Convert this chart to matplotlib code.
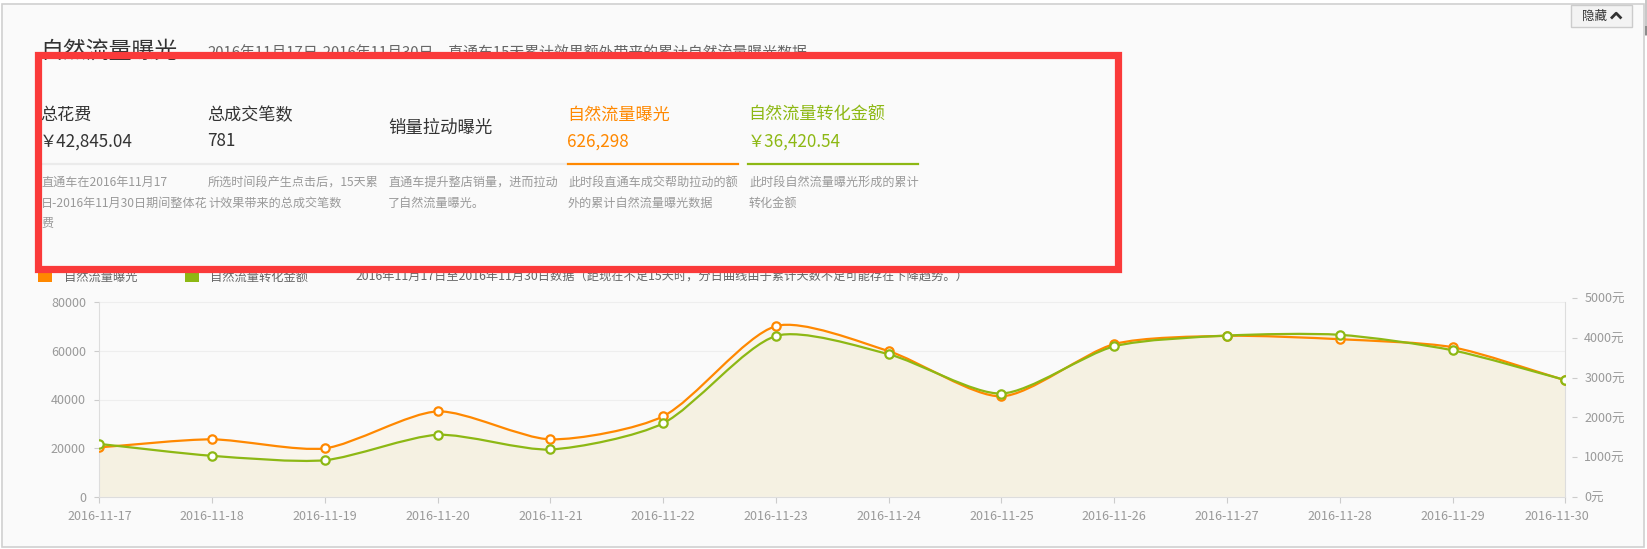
import matplotlib
matplotlib.use("Agg")
import matplotlib.pyplot as plt
import matplotlib.transforms as mtransforms
import numpy as np
from matplotlib.path import Path
from matplotlib.patches import PathPatch, Rectangle

plt.rcParams["font.family"] = ["Noto Sans CJK SC", "DejaVu Sans"]

W, H = 1647, 549

C_ORANGE = "#ff8800"
C_GREEN = "#8db814"
C_RED = "#fa3a3a"
C_TEXT = "#333333"
C_GREY = "#999999"
C_AXIS = "#dddddd"

# data
dates = ["2016-11-17", "2016-11-18", "2016-11-19", "2016-11-20", "2016-11-21",
         "2016-11-22", "2016-11-23", "2016-11-24", "2016-11-25", "2016-11-26",
         "2016-11-27", "2016-11-28", "2016-11-29", "2016-11-30"]
exposure = [20300, 23600, 19900, 35100, 23600, 33100, 70200,
            59900, 41300, 62800, 66200, 64800, 61500, 47900]
amount = [1330, 1030, 920, 1560, 1190, 1850, 4050,
          3590, 2600, 3790, 4060, 4080, 3690, 2940]
left_ticks = [0, 20000, 40000, 60000, 80000]
right_ticks = [0, 1000, 2000, 3000, 4000, 5000]

metric_labels = ["总花费", "总成交笔数", "销量拉动曝光", "自然流量曝光", "自然流量转化金额"]
metric_values = ["￥42,845.04", "781", "", "626,298", "￥36,420.54"]
metric_desc = [
    "直通车在2016年11月17\n日-2016年11月30日期间整体花\n费",
    "所选时间段产生点击后，15天累\n计效果带来的总成交笔数",
    "直通车提升整店销量，进而拉动\n了自然流量曝光。",
    "此时段直通车成交帮助拉动的额\n外的累计自然流量曝光数据",
    "此时段自然流量曝光形成的累计\n转化金额",
]
series_names = ["自然流量曝光", "自然流量转化金额"]


def smooth_path(xs, ys, trans, k=0.25):
    pts = trans.transform(np.column_stack([xs, ys]))
    n = len(pts)
    cl, cr = [], []
    for i in range(n):
        p = pts[i]
        prev = pts[max(i - 1, 0)]
        nxt = pts[min(i + 1, n - 1)]
        v = nxt - prev
        d0 = np.hypot(*(p - prev))
        d1 = np.hypot(*(nxt - p))
        s = d0 + d1
        if s == 0:
            cl.append(p); cr.append(p)
            continue
        cl.append(p - v * k * d0 / s * 2 * 0.5)
        cr.append(p + v * k * d1 / s * 2 * 0.5)
    verts = [pts[0]]
    codes = [Path.MOVETO]
    for i in range(n - 1):
        verts += [cr[i], cl[i + 1], pts[i + 1]]
        codes += [Path.CURVE4] * 3
    verts = trans.inverted().transform(np.array(verts))
    return verts, codes


fig = plt.figure(figsize=(W / 100, H / 100), dpi=100, facecolor="white")

# page layer in pixel coordinates
bg = fig.add_axes([0, 0, 1, 1], zorder=0)
bg.set_xlim(0, W)
bg.set_ylim(H, 0)
bg.axis("off")
bg.add_patch(Rectangle((2, 4), 1642, 543, facecolor="#fafafa",
                       edgecolor="#d0d0d0", linewidth=1.2))
bg.add_patch(Rectangle((1645, 0), 2, 36, facecolor="#c8c8c8", linewidth=0))
bg.add_patch(Rectangle((1645, 26), 2, 9, facecolor="#8c8c8c", linewidth=0))

# hide button
bg.add_patch(Rectangle((1571, 5), 61, 21.5, facecolor="#f3f3f3",
                       edgecolor="#cccccc", linewidth=1))
bg.text(1582, 16.5, "隐藏", fontsize=9, color=C_TEXT, ha="left", va="center")
bg.plot([1611, 1616.2, 1621.4], [18.5, 13.2, 18.5], color=C_TEXT,
        linewidth=2, solid_capstyle="butt")

# title
bg.text(40, 51, "自然流量曝光", fontsize=16.5, color=C_TEXT, ha="left", va="center")
bg.text(207, 53, "2016年11月17日-2016年11月30日，直通车15天累计效果额外带来的累计自然流量曝光数据",
        fontsize=10.7, color="#666666", ha="left", va="center")

# metric blocks
col_x = [41, 208, 388, 568, 749]
label_colors = [C_TEXT, C_TEXT, C_TEXT, C_ORANGE, C_GREEN]
for i, cx in enumerate(col_x):
    if metric_values[i]:
        bg.text(cx - 1, 115, metric_labels[i], fontsize=12.3,
                color=label_colors[i], ha="left", va="center")
        bg.text(cx - 1, 141.5, metric_values[i], fontsize=12.3,
                color=label_colors[i], ha="left", va="center")
    else:
        bg.text(cx, 128, metric_labels[i], fontsize=12.5,
                color=label_colors[i], ha="left", va="center")
    bg.text(cx, 176, metric_desc[i], fontsize=8.7, color=C_GREY,
            ha="left", va="top", linespacing=1.75)

bg.plot([40, 566], [163.5, 163.5], color="#ebebeb", linewidth=1.6)
bg.plot([568, 738], [163.5, 163.5], color=C_ORANGE, linewidth=1.6)
bg.plot([748, 918], [163.5, 163.5], color=C_GREEN, linewidth=1.6)

# legend row
bg.add_patch(Rectangle((38, 270), 13.5, 12, facecolor=C_ORANGE, linewidth=0))
bg.text(64, 277, series_names[0], fontsize=8.8, color="#666666", ha="left", va="center")
bg.add_patch(Rectangle((185, 270), 13.5, 12, facecolor=C_GREEN, linewidth=0))
bg.text(210, 277, series_names[1], fontsize=8.8, color="#666666", ha="left", va="center")
bg.text(356, 277, "2016年11月17日至2016年11月30日数据（距现在不足15天时，分日曲线由于累计天数不足可能存在下降趋势。）",
        fontsize=8.8, color="#666666", ha="left", va="center")

# red highlight box
bg.add_patch(Rectangle((37.5, 55), 1080, 213.5, facecolor="none",
                       edgecolor=C_RED, linewidth=5.2, zorder=10))

# chart
x0, x1 = 99.3, 1565.3
y_bot, y_top = 496.7, 298.3
ax = fig.add_axes([x0 / W, (H - y_bot) / H, (x1 - x0) / W, (y_bot - y_top) / H],
                  zorder=1)
ax.set_facecolor("none")
ax2 = ax.twinx()
x = np.arange(len(dates))
ax.set_xlim(0, len(dates) - 1)
ax.set_ylim(0, 80000 * 198.4 / 194.4)
ax2.set_ylim(0, 5000)

ov, oc = smooth_path(x, exposure, ax.transData)
gv, gc = smooth_path(x, amount, ax2.transData)

# areas, converted to left-axis data space so everything stays on one axes
gv_left = ax.transData.inverted().transform(ax2.transData.transform(gv))
for verts, codes, col in [(ov, oc, "#f9f5ec"), (gv_left, gc, "#f5f1e2")]:
    av = np.vstack([verts, [[verts[-1][0], 0], [verts[0][0], 0], verts[0]]])
    ac = list(codes) + [Path.LINETO, Path.LINETO, Path.CLOSEPOLY]
    ax.add_patch(PathPatch(Path(av, ac), facecolor=col, edgecolor="none", zorder=1))

ax.add_patch(PathPatch(Path(ov, oc), facecolor="none", edgecolor=C_ORANGE,
                       linewidth=1.6, zorder=3))
ax.add_patch(PathPatch(Path(gv_left, gc), facecolor="none", edgecolor=C_GREEN,
                       linewidth=1.6, zorder=3))
ax.plot(x, exposure, "o", ms=6, mfc="white", mec=C_ORANGE, mew=1.6, zorder=4)
ax.plot(x, amount, "o", ms=6, mfc="white", mec=C_GREEN, mew=1.6, zorder=4,
        transform=ax2.transData)

ax.set_yticks(left_ticks)
ax.set_yticklabels([str(v) for v in left_ticks])
ax.yaxis.grid(True, color="#eeeeee", linewidth=0.8, zorder=0)
ax.set_axisbelow(True)
ax.set_xticks(x)
ax.set_xticklabels(dates)
ax.tick_params(axis="x", length=4.3, color="#cccccc", pad=5, labelsize=9,
               labelcolor=C_GREY)
ax.tick_params(axis="y", length=3.6, color="#cccccc", pad=6, labelsize=9,
               labelcolor=C_GREY)
last = ax.get_xticklabels()[-1]
last.set_transform(last.get_transform() +
                   mtransforms.ScaledTranslation(-8 / 100, 0, fig.dpi_scale_trans))
ax.spines["top"].set_visible(False)
for side in ["left", "right"]:
    ax.spines[side].set_bounds(0, 80000)
    ax.spines[side].set_color(C_AXIS)
ax.spines["bottom"].set_color(C_AXIS)

for s in ax2.spines.values():
    s.set_visible(False)
ax2.spines["right"].set_position(("outward", 5))
ax2.set_yticks(right_ticks)
ax2.set_yticklabels([f"{v}元" for v in right_ticks])
ax2.tick_params(axis="y", length=3.6, color="#cccccc", pad=5, labelsize=9,
                labelcolor=C_GREY)

fig.savefig("out.png", dpi=100, facecolor=fig.get_facecolor())
